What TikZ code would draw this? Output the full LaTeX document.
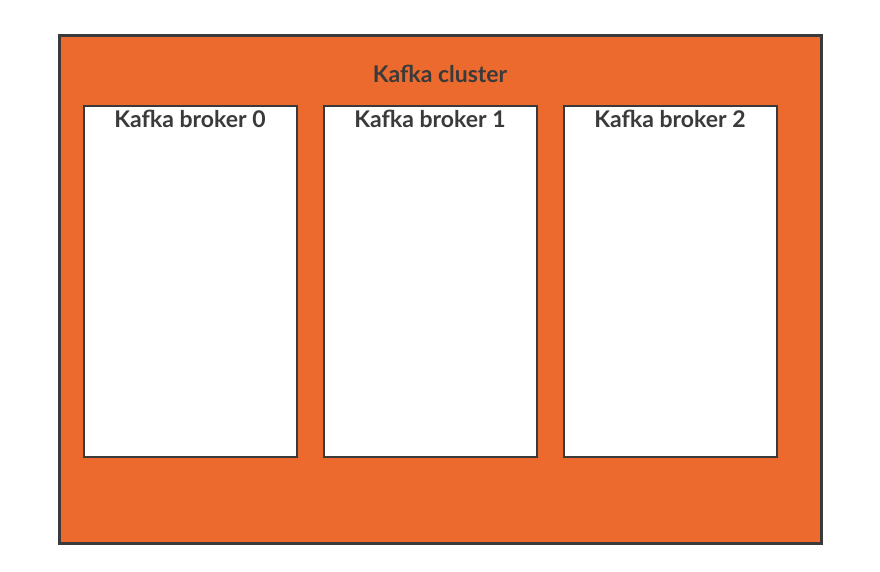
\documentclass[tikz,border=0pt]{standalone}
\usepackage{fontspec}
\setmainfont{Lato}
\usepackage{xcolor}
\usetikzlibrary{positioning,calc}
\definecolor{kafkaorange}{HTML}{EC6A2E}
\definecolor{linegray}{HTML}{3A3A3A}

\begin{document}
\begin{tikzpicture}[
    x=1pt, y=-1pt,
    node distance=25pt,
    cluster/.style={rectangle, draw=linegray, line width=3pt, fill=kafkaorange, minimum width=762pt, minimum height=508pt, inner sep=0pt},
    broker/.style={rectangle, draw=linegray, line width=2pt, fill=white, minimum width=213pt, minimum height=351pt, inner sep=0pt},
    title/.style={font=\fontsize{23}{26}\selectfont\bfseries, text=linegray, inner sep=2pt}
]
    \useasboundingbox (0,0) rectangle (880,572);

    % cluster
    \node[cluster] (cluster) at (440,289.5) {};
    \node[title] (cluster-label) at (440,74) {Kafka cluster};

    % brokers
    \node[broker] (broker0) at (190,281.5) {};
    \node[broker, right=of broker0] (broker1) {};
    \node[broker, right=of broker1] (broker2) {};

    \node[title, below=3pt of broker0.north] (broker0-label) {Kafka broker 0};
    \node[title, below=3pt of broker1.north] (broker1-label) {Kafka broker 1};
    \node[title, below=3pt of broker2.north] (broker2-label) {Kafka broker 2};

\end{tikzpicture}
\end{document}
